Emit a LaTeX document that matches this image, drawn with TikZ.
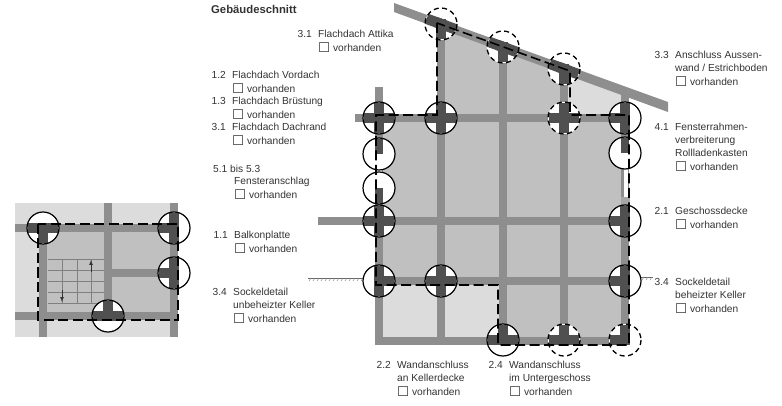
\documentclass[tikz,border=0pt]{standalone}
\usepackage{fontspec}
\setmainfont{Liberation Sans}
\newfontfamily\symfont{DejaVu Sans}
\usepackage{tikz}
\usetikzlibrary{positioning}
\usetikzlibrary{arrows}
\definecolor{wallgray}{HTML}{8E8E8E}
\definecolor{panelgray}{HTML}{C0C0C0}
\definecolor{lightgray}{HTML}{DCDCDC}
\definecolor{darkjoint}{HTML}{505050}
\definecolor{labelgray}{HTML}{333333}
\newcommand{\chkbox}{\raisebox{-1.2pt}{\symfont\fontsize{13.5}{13}\selectfont\char"2610}}
\tikzset{
wall/.style={wallgray, line width=8.8pt},
arm/.style={darkjoint, line width=10.5pt, line cap=rect},
stub/.style={darkjoint, line width=7.5pt},
solidring/.style={black, line width=1.2pt},
dashring/.style={black, line width=1.3pt, dash pattern=on 5pt off 3.5pt},
outline/.style={black, line width=1.6pt, dash pattern=on 10pt off 4.5pt},
stair/.style={gray, line width=0.7pt},
lbl/.style={labelgray, inner sep=0pt, anchor=north west, align=left, font=\fontsize{10.2}{13}\selectfont},
num/.style={labelgray, inner sep=0pt, anchor=north east, font=\fontsize{10.2}{13}\selectfont},
}
\begin{document}
\begin{tikzpicture}[x=1pt,y=-1pt]
\useasboundingbox (0,0) rectangle (782,406);
% small plan
\fill[lightgray] (15,203) rectangle (178,337);
\fill[panelgray] (43,228) rectangle (174,316);
\draw[wall] (43,228) -- (43,337);
\draw[wall] (108,203) -- (108,316);
\draw[wall] (174,203) -- (174,337);
\draw[wall] (15,228) -- (178,228);
\draw[wall] (15,316) -- (178,316);
\draw[wall] (108,273) -- (174,273);
\foreach \y in {259,270,281,292,303} {
\draw[stair] (48,\y) -- (104,\y);
}
\foreach \x in {62,77,91} {
\draw[stair] (\x,259) -- (\x,303);
}
\draw[stair,->,>=latex,black!80] (62,290) -- (62,302);
\draw[stair,->,>=latex,black!80] (91,272) -- (91,260);
% section
\fill[panelgray] (379,118) -- (625,118) -- (625,340) -- (503,340) -- (503,281) -- (379,281) -- cycle;
\fill[panelgray] (441,118) -- (441,24) -- (564,69) -- (564,118) -- cycle;
\fill[lightgray] (564,69) -- (625,91) -- (625,118) -- (564,118) -- cycle;
\fill[lightgray] (379,281) rectangle (503,340);
\fill[wallgray] (394,3) -- (668,102) -- (668,112) -- (394,12) -- cycle;
\draw[wall] (379,87) -- (379,345);
\draw[wall] (441,24) -- (441,340);
\draw[wall] (503,47) -- (503,340);
\draw[wall] (564,69) -- (564,345);
\draw[wall] (625,90) -- (625,345);
\draw[wall] (355,118) -- (630,118);
\draw[wall] (318,221) -- (630,221);
\draw[wall] (375,281) -- (630,281);
\draw[wall] (375,341) -- (630,341);
\fill[white] (377,155) rectangle (382,188);
\fill[white] (624,155) rectangle (628,197);
\fill[black!35] (621,197) rectangle (630,204);
% ground
\draw[black!60, line width=0.6pt] (308,278) -- (375,278);
\draw[black!60, line width=0.6pt] (630,277) -- (653,277);
\foreach \x in {311,315,...,375} {
\draw[black!45, line width=0.5pt] (\x,278) -- ++(-2,3);
}
\foreach \x in {636,640,...,652} {
\draw[black!45, line width=0.5pt] (\x,277) -- ++(-2,3);
}
% joints
\foreach \cx/\cy/\arms/\ring in {
379/118/{0,90,180,270}/solidring, 441/118/{0,90,180,270}/solidring, 625/118/{90,180,270}/solidring,
379/221/{0,90,180,270}/solidring, 625/221/{90,180,270}/solidring,
379/281/{0,90,270}/solidring, 441/281/{0,90,180,270}/solidring, 625/281/{90,180,270}/solidring,
503/340/{0,180,270}/solidring,
441/24/{20,90,200}/dashring, 503/47/{20,90,200}/dashring, 564/69/{20,90,200}/dashring,
564/118/{0,90,180,270}/dashring, 564/340/{0,180,270}/dashring, 625/340/{180,270}/dashring,
43/228/{0,90,180}/solidring, 174/228/{90,180,270}/solidring, 174/273/{90,180,270}/solidring,
108/316/{0,180,270}/solidring} {
\fill[white] (\cx,\cy) circle (16);
\foreach \a in \arms {
\draw[arm] (\cx,\cy) -- ++(\a:10);
}
\draw[\ring] (\cx,\cy) circle (16);
}
\foreach \cx/\cy/\a in {379/154/-15, 379/188/15, 625/153/-15} {
\fill[white] (\cx,\cy) circle (16);
\draw[stub] (\cx,\cy) -- ++(0,\a);
\draw[solidring] (\cx,\cy) circle (16);
}
% dashed outlines
\draw[outline] (437,23) -- (437,115) -- (376,115) -- (376,285) -- (498,285) -- (498,345) -- (629,345) -- (629,115) -- (570,115) -- (570,71) -- cycle;
\draw[outline] (38,224) rectangle (178,320);
% labels
\node[font=\bfseries\fontsize{11.3}{13}\selectfont, labelgray, inner sep=0pt, anchor=north west] (title) at (211,5) {Gebäudeschnitt};
\node[lbl] (attika) at (318,30) {Flachdach Attika\\[1pt]\chkbox{} vorhanden};
\node[lbl] (vordach) at (232,71) {Flachdach Vordach\\[1pt]\chkbox{} vorhanden};
\node[lbl] (bruestung) at (232,97) {Flachdach Brüstung\\[1pt]\chkbox{} vorhanden};
\node[lbl] (dachrand) at (232,123) {Flachdach Dachrand\\[1pt]\chkbox{} vorhanden};
\node[lbl] (bis) at (213,165) {5.1 bis 5.3};
\node[lbl] (anschlag) at (234,177) {Fensteranschlag\\[1pt]\chkbox{} vorhanden};
\node[lbl] (balkon) at (234,231) {Balkonplatte\\[1pt]\chkbox{} vorhanden};
\node[lbl] (sockelu) at (233,288) {Sockeldetail\\unbeheizter Keller\\[1pt]\chkbox{} vorhanden};
\node[lbl] (estrich) at (675,51) {Anschluss Aussen-\\wand / Estrichboden\\[1pt]\chkbox{} vorhanden};
\node[lbl] (rahmen) at (675,123) {Fensterrahmen-\\verbreiterung\\Rollladenkasten\\[1pt]\chkbox{} vorhanden};
\node[lbl] (geschoss) at (675,207) {Geschossdecke\\[1pt]\chkbox{} vorhanden};
\node[lbl] (sockelb) at (675,278) {Sockeldetail\\beheizter Keller\\[1pt]\chkbox{} vorhanden};
\node[lbl] (kellerdecke) at (397,361) {Wandanschluss\\an Kellerdecke\\[1pt]\chkbox{} vorhanden};
\node[lbl] (unterg) at (509,361) {Wandanschluss\\im Untergeschoss\\[1pt]\chkbox{} vorhanden};
\foreach \n/\t in {attika/3.1, vordach/1.2, bruestung/1.3, dachrand/3.1, balkon/1.1, sockelu/3.4, estrich/3.3, rahmen/4.1, geschoss/2.1, sockelb/3.4, kellerdecke/2.2, unterg/2.4} {
\node[num] at ([xshift=-6pt]\n.north west) {\t};
}
\end{tikzpicture}
\end{document}
